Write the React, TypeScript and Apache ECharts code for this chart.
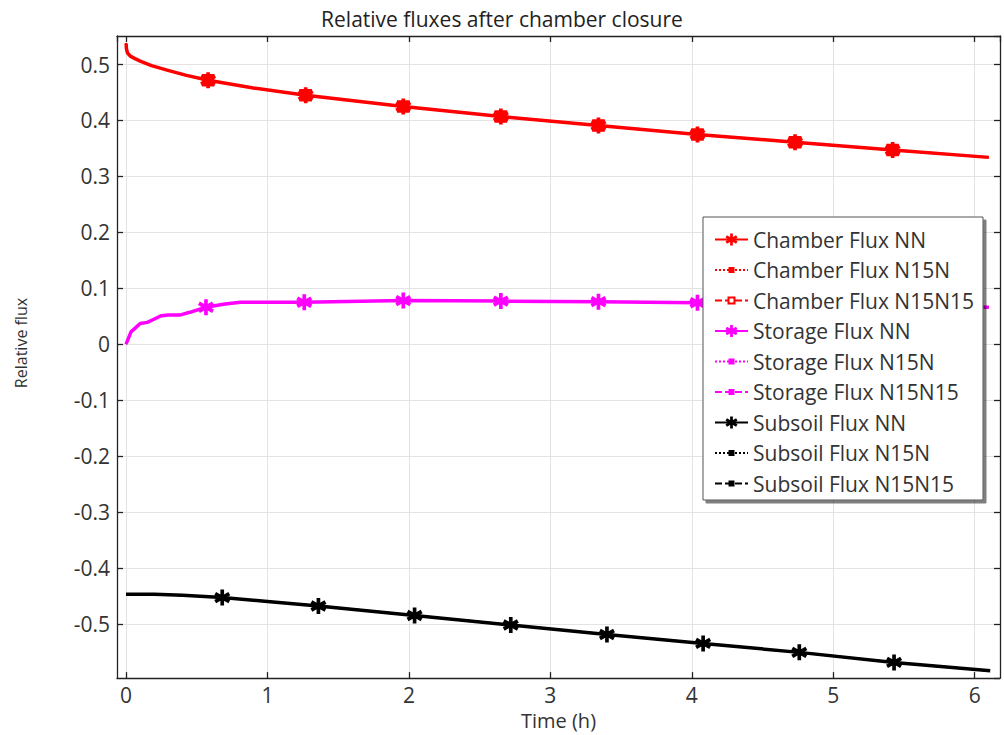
import React, { useEffect, useRef } from "react";
import * as echarts from "echarts";

const titleText = "Relative fluxes after chamber closure";
const xName = "Time (h)";
const yName = "Relative flux";

const chamberT = [0, 0.003, 0.01, 0.03, 0.06, 0.1, 0.18, 0.29, 0.42, 0.58, 0.9, 1.27, 1.96, 2.65, 3.34, 4.04, 4.73, 5.42, 6.1];
const chamberV = [0.538, 0.528, 0.521, 0.515, 0.511, 0.506, 0.498, 0.49, 0.481, 0.472, 0.458, 0.445, 0.425, 0.407, 0.391, 0.375, 0.361, 0.347, 0.334];
const chamberMarkT = [0.58, 1.27, 1.96, 2.65, 3.34, 4.04, 4.73, 5.42];

const storageT = [0, 0.035, 0.07, 0.1, 0.15, 0.2, 0.25, 0.3, 0.38, 0.45, 0.565, 0.7, 0.81, 1.26, 1.96, 2.65, 3.34, 4.04, 4.73, 5.42, 6.1];
const storageV = [0, 0.022, 0.03, 0.037, 0.039, 0.045, 0.051, 0.052, 0.052, 0.057, 0.066, 0.072, 0.075, 0.075, 0.078, 0.077, 0.076, 0.074, 0.071, 0.069, 0.066];
const storageMarkT = [0.565, 1.26, 1.96, 2.65, 3.34, 4.04, 4.73, 5.42];

const subsoilT = [0, 0.2, 0.4, 0.68, 1.0, 1.36, 2.04, 2.72, 3.4, 4.08, 4.76, 5.43, 6.11];
const subsoilV = [-0.447, -0.447, -0.449, -0.453, -0.46, -0.468, -0.485, -0.502, -0.519, -0.535, -0.551, -0.569, -0.584];
const subsoilMarkT = [0.68, 1.36, 2.04, 2.72, 3.4, 4.08, 4.76, 5.43];

const legendNames = [
  "Chamber Flux NN",
  "Chamber Flux N15N",
  "Chamber Flux N15N15",
  "Storage Flux NN",
  "Storage Flux N15N",
  "Storage Flux N15N15",
  "Subsoil Flux NN",
  "Subsoil Flux N15N",
  "Subsoil Flux N15N15",
];

// six-armed asterisk (thick arms)
const ASTERISK =
  "path://M7.75 0L12.25 0L12.25 20L7.75 20ZM2.5 2.9L19.8 12.9L17.5 17.1L0.2 7.1ZM0.2 12.9L17.5 2.9L19.8 7.1L2.5 17.1Z";
const SQUARE = "path://M0 0ZM20 20ZM5 5L15 5L15 15L5 15Z";

const FONT = "Open Sans";

function buildData(t: number[], v: number[], markT: number[] | null) {
  return t.map((x, i) => {
    if (markT && markT.includes(x)) return { value: [x, v[i]] };
    return { value: [x, v[i]], symbol: "none" };
  });
}

function lineSeries(
  name: string,
  t: number[],
  v: number[],
  color: string,
  lineType: any,
  width: number,
  symbol: string,
  markT: number[] | null,
  symbolSize: number,
  itemStyle?: any
) {
  return {
    name,
    type: "line",
    data: buildData(t, v, markT),
    xAxisIndex: 0,
    yAxisIndex: 0,
    symbol,
    symbolSize,
    showSymbol: !!markT,
    showAllSymbol: true,
    lineStyle: { color, width, type: lineType },
    itemStyle: itemStyle || { color },
    emphasis: { disabled: true },
  };
}

export default function App() {
  const ref = useRef<HTMLDivElement>(null);
  useEffect(() => {
    if (!ref.current) return;
    const chart = echarts.init(ref.current, null, { renderer: "svg" });
    const axisLineStyle = { color: "#222", width: 1.3 };
    const labelStyle = { fontSize: 21, color: "#333", fontFamily: FONT };
    const red = "#ff0000";
    const mag = "#ff00ff";
    const blk = "#000000";
    const dotted = [2, 2];
    const dashed = [7, 3];
    const option: any = {
      animation: false,
      backgroundColor: "#ffffff",
      textStyle: { fontFamily: FONT },
      title: {
        text: titleText,
        left: "center",
        top: 3,
        textStyle: { fontSize: 21, fontWeight: "normal", color: "#222", fontFamily: FONT },
      },
      grid: { left: 117, right: 4, top: 36, bottom: 52, containLabel: false },
      xAxis: [
        {
          type: "value",
          min: -0.064,
          max: 6.179,
          minInterval: 1,
          maxInterval: 1,
          name: xName,
          nameLocation: "middle",
          nameGap: 30,
          nameTextStyle: { fontSize: 20, color: "#333", fontFamily: FONT },
          axisLine: { show: true, onZero: false, lineStyle: axisLineStyle },
          axisTick: { show: true, inside: true, length: 6, lineStyle: axisLineStyle },
          axisLabel: { ...labelStyle, margin: 6, showMinLabel: false, showMaxLabel: false },
          splitLine: { show: true, lineStyle: { color: "#e3e3e3", width: 1 } },
        },
        {
          type: "value",
          position: "top",
          min: -0.064,
          max: 6.179,
          minInterval: 1,
          maxInterval: 1,
          axisLine: { show: true, onZero: false, lineStyle: axisLineStyle },
          axisTick: { show: true, inside: true, length: 6, lineStyle: axisLineStyle },
          axisLabel: { show: false },
          splitLine: { show: false },
        },
      ],
      yAxis: [
        {
          type: "value",
          min: -0.597,
          max: 0.551,
          minInterval: 0.1,
          maxInterval: 0.1,
          axisLine: { show: true, onZero: false, lineStyle: axisLineStyle },
          axisTick: { show: true, inside: true, length: 6, lineStyle: axisLineStyle },
          axisLabel: { ...labelStyle, margin: 7, showMinLabel: false, showMaxLabel: false },
          splitLine: { show: true, lineStyle: { color: "#e3e3e3", width: 1 } },
        },
        {
          type: "value",
          position: "right",
          min: -0.597,
          max: 0.551,
          minInterval: 0.1,
          maxInterval: 0.1,
          axisLine: { show: true, onZero: false, lineStyle: axisLineStyle },
          axisTick: { show: true, inside: true, length: 6, lineStyle: axisLineStyle },
          axisLabel: { show: false },
          splitLine: { show: false },
        },
      ],
      legend: {
        data: legendNames,
        orient: "vertical",
        left: 703,
        top: 217,
        padding: [12, 9, 6, 11],
        itemWidth: 33,
        itemHeight: 15,
        itemGap: 9.5,
        selectedMode: false,
        backgroundColor: "#ffffff",
        borderColor: "#555",
        borderWidth: 1,
        borderRadius: 0,
        shadowColor: "rgba(0,0,0,0.5)",
        shadowBlur: 1,
        shadowOffsetX: 3,
        shadowOffsetY: 3,
        textStyle: { fontSize: 21, color: "#333", fontFamily: FONT },
      },
      graphic: [
        {
          type: "text",
          x: 21,
          y: 343,
          rotation: Math.PI / 2,
          style: {
            text: yName,
            fontSize: 16,
            fill: "#333",
            fontFamily: FONT,
            align: "center",
            verticalAlign: "middle",
          },
        },
      ],
      series: [
        lineSeries(legendNames[2], chamberT, chamberV, red, dashed, 2, SQUARE, chamberMarkT, 22, {
          color: "#ffffff",
          borderColor: red,
          borderWidth: 1.5,
        }),
        lineSeries(legendNames[1], chamberT, chamberV, red, dotted, 2, SQUARE, chamberMarkT, 22),
        lineSeries(legendNames[0], chamberT, chamberV, red, "solid", 3.5, ASTERISK, chamberMarkT, 16),
        lineSeries(legendNames[5], storageT, storageV, mag, dashed, 2, SQUARE, null, 22),
        lineSeries(legendNames[4], storageT, storageV, mag, dotted, 2, SQUARE, null, 22),
        lineSeries(legendNames[3], storageT, storageV, mag, "solid", 3.5, ASTERISK, storageMarkT, 16),
        lineSeries(legendNames[8], subsoilT, subsoilV, blk, dashed, 2, SQUARE, null, 22),
        lineSeries(legendNames[7], subsoilT, subsoilV, blk, dotted, 2, SQUARE, null, 22),
        lineSeries(legendNames[6], subsoilT, subsoilV, blk, "solid", 3.5, ASTERISK, subsoilMarkT, 16),
      ],
    };
    chart.setOption(option);
    return () => chart.dispose();
  }, []);
  return (
    <div
      ref={ref}
      style={{ position: "absolute", left: 0, top: 0, width: 1004, height: 735 }}
    />
  );
}
